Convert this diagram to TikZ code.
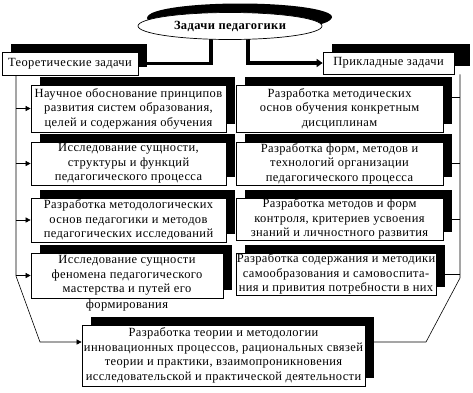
\documentclass[tikz,border=0pt]{standalone}
\usepackage{fontspec}
\setmainfont{Liberation Serif}[LetterSpace=3]
\usetikzlibrary{arrows.meta,positioning,shapes.geometric,shadows,backgrounds}
\tikzset{
  taskbox/.style={draw,fill=white,line width=.7pt,align=center,inner sep=0pt,
    font=\fontsize{12.5}{14.5}\selectfont,
    drop shadow={shadow xshift=9pt,shadow yshift=8pt,fill=black,opacity=1}},
  feed/.style={line width=.6pt,-{Triangle[length=5pt,width=5pt]}},
  link/.style={line width=.6pt},
  trunk/.style={line width=3.5pt}
}

\begin{document}
\begin{tikzpicture}[x=1pt,y=-1pt]
  \useasboundingbox (0,0) rectangle (473,392);
  \def\goal#1#2#3#4#5#6{%
    \node[taskbox,minimum width=#4pt,minimum height=#5pt] (#1) at (#2,#3) {#6};
  }
  \node[taskbox,ellipse,minimum width=184pt,minimum height=27pt,
    font=\fontsize{12.5}{14.5}\selectfont\bfseries,
    drop shadow={shadow xshift=10pt,shadow yshift=9pt,fill=black,opacity=1}]
    (tasks) at (230,26) {Задачи педагогики};
  \goal{theory}{70}{63.5}{136}{23}{Теоретические задачи}
  \node[taskbox,minimum width=131pt,minimum height=22pt,
    drop shadow={shadow xshift=16pt,shadow yshift=8pt,fill=black,opacity=1}]
    (applied) at (388.5,63) {Прикладные задачи};
  \goal{L1}{128.5}{108.5}{195}{47}{Научное обоснование принципов\\развития систем образования,\\целей и содержания обучения}
  \goal{L2}{128.5}{163.5}{195}{43}{Исследование сущности,\\структуры и функций\\педагогического процесса}
  \goal{L3}{128.5}{220}{195}{44}{Разработка методологических\\основ педагогики и методов\\педагогических исследований}
  \node[taskbox,minimum width=192pt,minimum height=45pt,
    label={[inner sep=0pt,yshift=-1pt,font=\fontsize{12.5}{14.5}\selectfont]below:формирования}]
    (L4) at (127,275.5) {Исследование сущности\\феномена педагогического\\мастерства и путей его};
  \goal{R1}{339.5}{108.5}{207}{47}{Разработка методических\\основ обучения конкретным\\дисциплинам}
  \goal{R2}{339.5}{163.5}{207}{43}{Разработка форм, методов и\\технологий организации\\педагогического процесса}
  \goal{R3}{339.5}{219}{207}{42}{Разработка методов и форм\\контроля, критериев усвоения\\знаний и личностного развития}
  \goal{R4}{336}{274}{200}{42}{Разработка содержания и методики\\самообразования и самовоспита-\\ния и привития потребности в них}
  \goal{B}{223.5}{355.5}{283}{61}{Разработка теории и методологии\\инновационных процессов, рациональных связей\\теории и практики, взаимопроникновения\\исследовательской и практической деятельности}

  \coordinate (lstem) at (16,276);
  \coordinate (lbend) at (40,342);
  \coordinate (rstem) at (460,278);
  \coordinate (rbend) at (426,342);
  \begin{scope}[on background layer]
    \draw[trunk] ([xshift=-19pt]tasks.center) |- (theory.east);
    \draw[trunk,-{Triangle[length=6pt,width=8pt]}] ([xshift=18pt]tasks.center) |- (applied.west);
    \draw[feed] (theory.south -| lstem) -- (lstem) -- (lbend) -- (lbend -| B.west);
    \foreach \n in {L1,L2,L3,L4}
      \draw[feed] (\n.west -| lstem) -- (\n.west);
    \draw[link] (applied.south -| rstem) -- (rstem) -- (rbend) -- (rbend -| B.east);
    \draw[link] ([yshift=11.5pt]R1.east) -- ([yshift=11.5pt]R1.east -| rstem);
    \foreach \n in {R2,R3,R4}
      \draw[link] (\n.east) -- (\n.east -| rstem);
  \end{scope}
\end{tikzpicture}
\end{document}
